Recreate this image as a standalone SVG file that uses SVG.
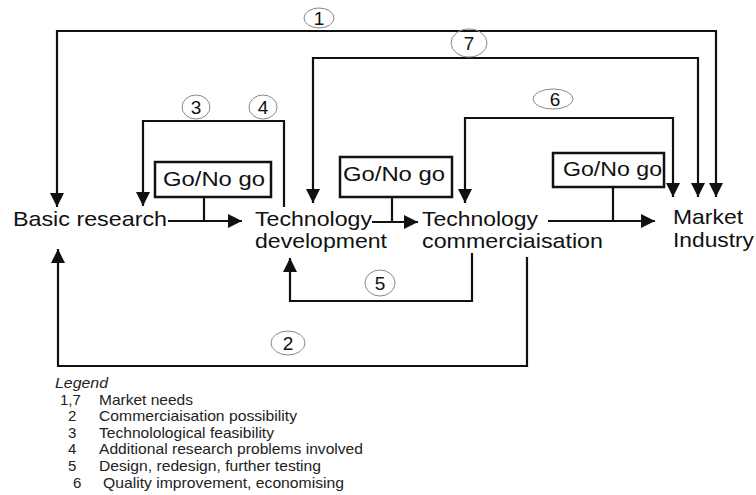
<svg xmlns="http://www.w3.org/2000/svg" width="756" height="495" viewBox="0 0 756 495">
<style>
.c{fill:none;stroke:#111;stroke-width:2.2}
.box{fill:#fff;stroke:#111;stroke-width:2.5}
.n{font-family:"Liberation Sans",Arial,sans-serif;font-size:21px;fill:#111}
.g{font-family:"Liberation Sans",Arial,sans-serif;font-size:20px;fill:#111}
.e{fill:none;stroke:#888;stroke-width:1}
.num{font-family:"Liberation Sans",Arial,sans-serif;font-size:19px;fill:#111;text-anchor:middle}
.lg{font-family:"Liberation Sans",Arial,sans-serif;font-size:15px;fill:#222}
</style>
<defs>
<marker id="ah" viewBox="0 0 14 14" refX="14" refY="7" markerWidth="14" markerHeight="14" markerUnits="userSpaceOnUse" orient="auto-start-reverse">
<path d="M0,0 L14,7 L0,14 z" fill="#111"/>
</marker>
</defs>
<rect width="756" height="495" fill="#fff"/>
<g id="connectors">
<path class="c" d="M57,207 V31 H716 V197" marker-start="url(#ah)" marker-end="url(#ah)"/>
<path class="c" d="M313,203 V58 H698 V197" marker-start="url(#ah)" marker-end="url(#ah)"/>
<path class="c" d="M465,203 V118 H673 V197" marker-start="url(#ah)" marker-end="url(#ah)"/>
<path class="c" d="M284,207 V121 H143 V206" marker-end="url(#ah)"/>
<path class="c" d="M472,253 V301 H290 V258" marker-end="url(#ah)"/>
<path class="c" d="M527,257 V366 H58 V249" marker-end="url(#ah)"/>
<path class="c" d="M168,221 H242" marker-end="url(#ah)"/>
<path class="c" d="M204,197 V221"/>
<path class="c" d="M372,222 H418" marker-end="url(#ah)"/>
<path class="c" d="M392,197 V222"/>
<path class="c" d="M548,221 H655" marker-end="url(#ah)"/>
<path class="c" d="M613,187 V221"/>
</g>
<g id="labels">
<ellipse class="e" cx="319" cy="18" rx="15" ry="10"/><text class="num" x="319" y="25">1</text>
<ellipse class="e" cx="469" cy="43" rx="18" ry="14"/><text class="num" x="469" y="50">7</text>
<ellipse class="e" cx="553" cy="99" rx="20" ry="10"/><text class="num" x="555" y="106">6</text>
<ellipse class="e" cx="196" cy="107" rx="14" ry="12"/><text class="num" x="196" y="114">3</text>
<ellipse class="e" cx="263" cy="107" rx="14" ry="12"/><text class="num" x="263" y="114">4</text>
<ellipse class="e" cx="380" cy="283" rx="15" ry="13"/><text class="num" x="380" y="290">5</text>
<ellipse class="e" cx="288" cy="343" rx="17" ry="12"/><text class="num" x="288" y="350">2</text>
</g>
<g id="gate1"><rect class="box" x="155" y="162" width="116" height="35"/><text class="g" x="163" y="186" textLength="102" lengthAdjust="spacingAndGlyphs">Go/No go</text></g>
<g id="gate2"><rect class="box" x="340" y="157" width="112" height="40"/><text class="g" x="343" y="181" textLength="102" lengthAdjust="spacingAndGlyphs">Go/No go</text></g>
<g id="gate3"><rect class="box" x="553" y="153" width="111" height="34"/><text class="g" x="563" y="176" textLength="99" lengthAdjust="spacingAndGlyphs">Go/No go</text></g>
<g id="basic"><text class="n" x="13" y="226" textLength="154" lengthAdjust="spacingAndGlyphs">Basic research</text></g>
<g id="techdev"><text class="n" x="255" y="226" textLength="117" lengthAdjust="spacingAndGlyphs">Technology</text><text class="n" x="255" y="248" textLength="132" lengthAdjust="spacingAndGlyphs">development</text></g>
<g id="techcom"><text class="n" x="422" y="226" textLength="116" lengthAdjust="spacingAndGlyphs">Technology</text><text class="n" x="422" y="248" textLength="181" lengthAdjust="spacingAndGlyphs">commerciaisation</text></g>
<g id="market"><text class="n" x="673" y="224" textLength="70" lengthAdjust="spacingAndGlyphs">Market</text><text class="n" x="673" y="247" textLength="81" lengthAdjust="spacingAndGlyphs">Industry</text></g>
<g id="legend">
<text class="lg" x="55" y="388" font-style="italic" textLength="53" lengthAdjust="spacingAndGlyphs">Legend</text>
<text class="lg" x="60" y="405">1,7</text><text class="lg" x="99" y="405" textLength="94" lengthAdjust="spacingAndGlyphs">Market needs</text>
<text class="lg" x="68" y="421">2</text><text class="lg" x="99" y="421" textLength="198" lengthAdjust="spacingAndGlyphs">Commerciaisation possibility</text>
<text class="lg" x="68" y="438">3</text><text class="lg" x="99" y="438" textLength="175" lengthAdjust="spacingAndGlyphs">Technolological feasibility</text>
<text class="lg" x="68" y="454">4</text><text class="lg" x="99" y="454" textLength="264" lengthAdjust="spacingAndGlyphs">Additional research problems involved</text>
<text class="lg" x="68" y="471">5</text><text class="lg" x="99" y="471" textLength="222" lengthAdjust="spacingAndGlyphs">Design, redesign, further testing</text>
<text class="lg" x="73" y="488">6</text><text class="lg" x="103" y="488" textLength="241" lengthAdjust="spacingAndGlyphs">Quality improvement, economising</text>
</g>
</svg>
